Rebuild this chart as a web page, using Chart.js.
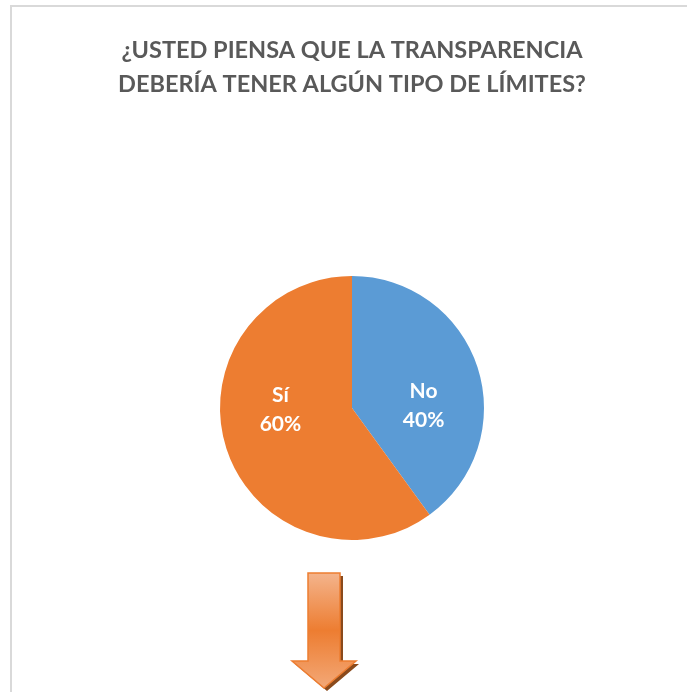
<!DOCTYPE html>
<html>
<head>
<meta charset="utf-8">
<script src="https://cdn.jsdelivr.net/npm/chart.js@4/dist/chart.umd.min.js"></script>
<style>
  html, body { margin: 0; padding: 0; background: #ffffff; }
  body { width: 687px; height: 692px; position: relative; overflow: hidden; }
  #frame { position: absolute; left: 10px; top: 5px; width: 700px; height: 700px;
           border-left: 2px solid #d9d9d9; border-top: 2px solid #d9d9d9; }
  #wrap { position: absolute; left: 0; top: 0; width: 687px; height: 692px; }
</style>
</head>
<body>
<div id="frame"></div>
<div id="wrap"><canvas id="c" width="687" height="692"></canvas></div>
<script>
const titleLines = ["¿USTED PIENSA QUE LA TRANSPARENCIA", "DEBERÍA TENER ALGÚN TIPO DE LÍMITES?"];
const categories = ["No", "Sí"];
const values = [40, 60];
const sliceColors = ["#5b9bd5", "#ed7d31"];

const labelPlugin = {
  id: 'sliceLabels',
  afterDatasetsDraw(chart) {
    const ctx = chart.ctx;
    const meta = chart.getDatasetMeta(0);
    const total = values.reduce((a, b) => a + b, 0);
    ctx.save();
    ctx.fillStyle = '#ffffff';
    ctx.font = 'bold 21px Lato';
    ctx.textAlign = 'center';
    ctx.textBaseline = 'middle';
    meta.data.forEach((arc, i) => {
      const p = arc.getProps(['x', 'y', 'startAngle', 'endAngle', 'outerRadius'], true);
      const mid = (p.startAngle + p.endAngle) / 2;
      const lx = p.x + Math.cos(mid) * p.outerRadius * 0.57;
      const ly = p.y + Math.sin(mid) * p.outerRadius * 0.05;
      const pct = Math.round(values[i] / total * 100) + '%';
      ctx.fillText(categories[i], lx, ly - 15);
      ctx.fillText(pct, lx, ly + 14);
    });
    ctx.restore();
  }
};

const arrowPlugin = {
  id: 'downArrow',
  afterDraw(chart) {
    const ctx = chart.ctx;
    const shape = (dx, dy) => {
      ctx.beginPath();
      ctx.moveTo(308 + dx, 573 + dy);
      ctx.lineTo(340 + dx, 573 + dy);
      ctx.lineTo(340 + dx, 661 + dy);
      ctx.lineTo(356 + dx, 661 + dy);
      ctx.lineTo(324 + dx, 688 + dy);
      ctx.lineTo(292 + dx, 661 + dy);
      ctx.lineTo(308 + dx, 661 + dy);
      ctx.closePath();
    };
    ctx.save();
    shape(3, 3);
    ctx.fillStyle = '#8a4a1c';
    ctx.fill();
    const g = ctx.createLinearGradient(0, 573, 0, 688);
    g.addColorStop(0, '#f4b48c');
    g.addColorStop(0.5, '#ed7d31');
    g.addColorStop(1, '#f3a877');
    shape(0, 0);
    ctx.fillStyle = g;
    ctx.fill();
    ctx.lineWidth = 1.5;
    ctx.strokeStyle = '#ed7d31';
    ctx.stroke();
    ctx.restore();
  }
};

new Chart(document.getElementById('c'), {
  type: 'pie',
  data: {
    labels: categories,
    datasets: [{
      data: values,
      backgroundColor: sliceColors,
      borderWidth: 0
    }]
  },
  options: {
    responsive: false,
    animation: false,
    layout: { padding: { top: 33, left: 17, right: 0, bottom: 152 } },
    plugins: {
      legend: { display: false },
      tooltip: { enabled: false },
      title: {
        display: true,
        text: titleLines,
        color: '#595959',
        font: { family: 'Lato', size: 23.5, weight: 'bold', lineHeight: 1.447 },
        padding: { top: 0, bottom: 175 }
      }
    }
  },
  plugins: [labelPlugin, arrowPlugin]
});
</script>
</body>
</html>
